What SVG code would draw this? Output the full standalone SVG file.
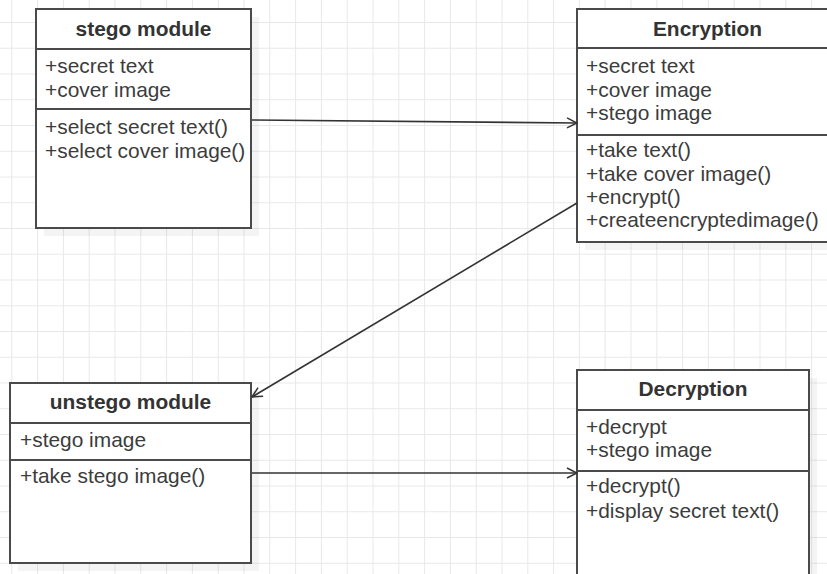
<svg xmlns="http://www.w3.org/2000/svg" width="827" height="574" viewBox="0 0 827 574">
<defs>
  <pattern id="grid" x="11.3" y="22" width="25.8" height="25.75" patternUnits="userSpaceOnUse">
    <path d="M0.5 0 V25.75 M0 0.5 H25.8" stroke="#e8e8e8" stroke-width="1" fill="none"/>
  </pattern>
  <marker id="open" viewBox="0 0 12 12" refX="11" refY="6" markerWidth="12" markerHeight="12" markerUnits="userSpaceOnUse" orient="auto">
    <path d="M1 1 L11 6 L1 11" fill="none" stroke="#333" stroke-width="1.5"/>
  </marker>
  <style>
    .box { fill: #ffffff; stroke: #4a4a4a; stroke-width: 2; }
    .shadow { fill: #000000; opacity: 0.045; }
    .div { stroke: #4a4a4a; stroke-width: 2; }
    .title { font-family: "Liberation Sans", Arial, sans-serif; font-size: 20.9px; font-weight: bold; fill: #333; text-anchor: middle; }
    .item { font-family: "Liberation Sans", Arial, sans-serif; font-size: 20.9px; fill: #3c3c3c; }
    .conn { stroke: #333; stroke-width: 1.6; fill: none; marker-end: url(#open); }
  </style>
</defs>
<rect x="0" y="0" width="827" height="574" fill="#ffffff"/>
<rect x="0" y="0" width="827" height="574" fill="url(#grid)"/>

<g id="stego-module">
  <rect class="shadow" x="44" y="17" width="215" height="219"/>
  <rect class="box" x="36" y="9" width="215" height="219"/>
  <line class="div" x1="36" y1="49" x2="251" y2="49"/>
  <line class="div" x1="36" y1="109" x2="251" y2="109"/>
  <text class="title" x="143.5" y="36">stego module</text>
  <text class="item" x="45" y="73">+secret text</text>
  <text class="item" x="45" y="97">+cover image</text>
  <text class="item" x="45" y="134">+select secret text()</text>
  <text class="item" x="45" y="158">+select cover image()</text>
</g>

<g id="encryption">
  <rect class="shadow" x="585" y="17" width="261" height="233"/>
  <rect class="box" x="577" y="9" width="261" height="233"/>
  <line class="div" x1="577" y1="48" x2="838" y2="48"/>
  <line class="div" x1="577" y1="135" x2="838" y2="135"/>
  <text class="title" x="707.5" y="36">Encryption</text>
  <text class="item" x="586" y="73">+secret text</text>
  <text class="item" x="586" y="97">+cover image</text>
  <text class="item" x="586" y="120">+stego image</text>
  <text class="item" x="586" y="157">+take text()</text>
  <text class="item" x="586" y="181">+take cover image()</text>
  <text class="item" x="586" y="204">+encrypt()</text>
  <text class="item" x="586" y="227">+createencryptedimage()</text>
</g>

<g id="unstego-module">
  <rect class="shadow" x="18" y="391" width="241" height="180"/>
  <rect class="box" x="10" y="383" width="241" height="180"/>
  <line class="div" x1="10" y1="423" x2="251" y2="423"/>
  <line class="div" x1="10" y1="460" x2="251" y2="460"/>
  <text class="title" x="130.5" y="409">unstego module</text>
  <text class="item" x="20" y="447">+stego image</text>
  <text class="item" x="20" y="483">+take stego image()</text>
</g>

<g id="decryption">
  <rect class="shadow" x="585" y="378" width="232" height="230"/>
  <rect class="box" x="577" y="370" width="232" height="230"/>
  <line class="div" x1="577" y1="410" x2="809" y2="410"/>
  <line class="div" x1="577" y1="471" x2="809" y2="471"/>
  <text class="title" x="693" y="396">Decryption</text>
  <text class="item" x="586" y="434">+decrypt</text>
  <text class="item" x="586" y="457">+stego image</text>
  <text class="item" x="586" y="493">+decrypt()</text>
  <text class="item" x="586" y="518">+display secret text()</text>
</g>

<g id="connectors">
  <line class="conn" x1="252" y1="120" x2="577" y2="123"/>
  <line class="conn" x1="577" y1="203" x2="252" y2="397"/>
  <line class="conn" x1="252" y1="473" x2="577" y2="473"/>
</g>
</svg>
